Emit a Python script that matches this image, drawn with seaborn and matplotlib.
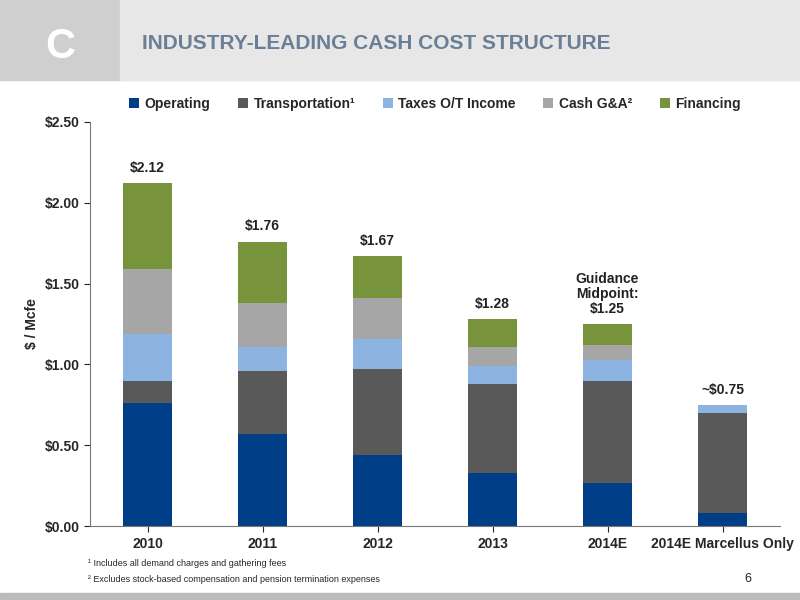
import matplotlib
matplotlib.use("Agg")
import matplotlib.pyplot as plt
import seaborn as sns
import numpy as np
from matplotlib.patches import Rectangle

categories = ["2010", "2011", "2012", "2013", "2014E", "2014E Marcellus Only"]
operating = [0.76, 0.57, 0.44, 0.33, 0.27, 0.08]
transportation = [0.14, 0.39, 0.53, 0.55, 0.63, 0.62]
taxes = [0.29, 0.15, 0.19, 0.11, 0.13, 0.05]
cash_ga = [0.40, 0.27, 0.25, 0.12, 0.09, 0.0]
financing = [0.53, 0.38, 0.26, 0.17, 0.13, 0.0]
totals_text = ["$2.12", "$1.76", "$1.67", "$1.28", "Guidance\nMidpoint:\n$1.25", "~$0.75"]
series_names = ["Operating", "Transportation¹", "Taxes O/T Income", "Cash G&A²", "Financing"]
colors = ["#003f87", "#595959", "#8db3e2", "#a6a6a6", "#77933c"]

sns.set_style("white")
plt.rcParams['font.family'] = ['Liberation Sans', 'DejaVu Sans']
fig = plt.figure(figsize=(8, 6), dpi=100)

# header
fig.patches.append(Rectangle((0, 0.867), 1, 0.133, transform=fig.transFigure, color="#cfcfcf", zorder=0))
fig.patches.append(Rectangle((0.15, 0.867), 0.85, 0.133, transform=fig.transFigure, color="#e7e7e7", zorder=0))
fig.patches.append(Rectangle((0, 0.0), 1, 0.012, transform=fig.transFigure, color="#bbbbbb", zorder=0))
fig.text(0.178, 0.928, "INDUSTRY-LEADING CASH COST STRUCTURE", fontsize=15, fontweight="bold", color="#6a7f97", va="center")
fig.text(0.075, 0.922, "C", fontsize=30, fontweight="bold", color="white", ha="center", va="center")

ax = fig.add_axes([0.1125, 0.123, 0.8625, 0.674])
bottom = np.zeros(len(categories))
series = [operating, transportation, taxes, cash_ga, financing]
for name, vals, col in zip(series_names, series, colors):
    sns.barplot(x=categories, y=vals, bottom=bottom, color=col, label=name, width=0.42, ax=ax,
                saturation=1, linewidth=0)
    bottom = bottom + np.array(vals)

for i, (tot, t) in enumerate(zip(bottom, totals_text)):
    ax.text(i, tot + 0.05, t, ha="center", va="bottom", fontsize=10, fontweight="bold", color="#222222", linespacing=1.1)

ax.set_ylim(0, 2.5)
ax.set_yticks(np.arange(0, 2.51, 0.5))
ax.set_yticklabels([f"${v:.2f}" for v in np.arange(0, 2.51, 0.5)], fontsize=10, fontweight="bold")
ax.set_xticks(range(len(categories)))
ax.set_xticklabels(categories, fontsize=10, fontweight="bold")
ax.set_xlim(-0.5, 5.5)
ax.set_ylabel("$ / Mcfe", fontsize=10, fontweight="bold")
ax.tick_params(axis="both", length=4, direction="out", left=True, bottom=True)
for s in ["top", "right"]:
    ax.spines[s].set_visible(False)
for s in ["left", "bottom"]:
    ax.spines[s].set_color("#777777")
ax.legend(loc="upper center", bbox_to_anchor=(0.5, 1.092), ncol=5, frameon=False,
          prop={"weight": "bold", "size": 10}, handlelength=0.7, handleheight=0.7, columnspacing=2.0, handletextpad=0.4)

fig.text(0.11, 0.057, "¹ Includes all demand charges and gathering fees", fontsize=6.5)
fig.text(0.11, 0.03, "² Excludes stock-based compensation and pension termination expenses", fontsize=6.5)
fig.text(0.93, 0.03, "6", fontsize=9)
fig.savefig("out.png", dpi=100)
